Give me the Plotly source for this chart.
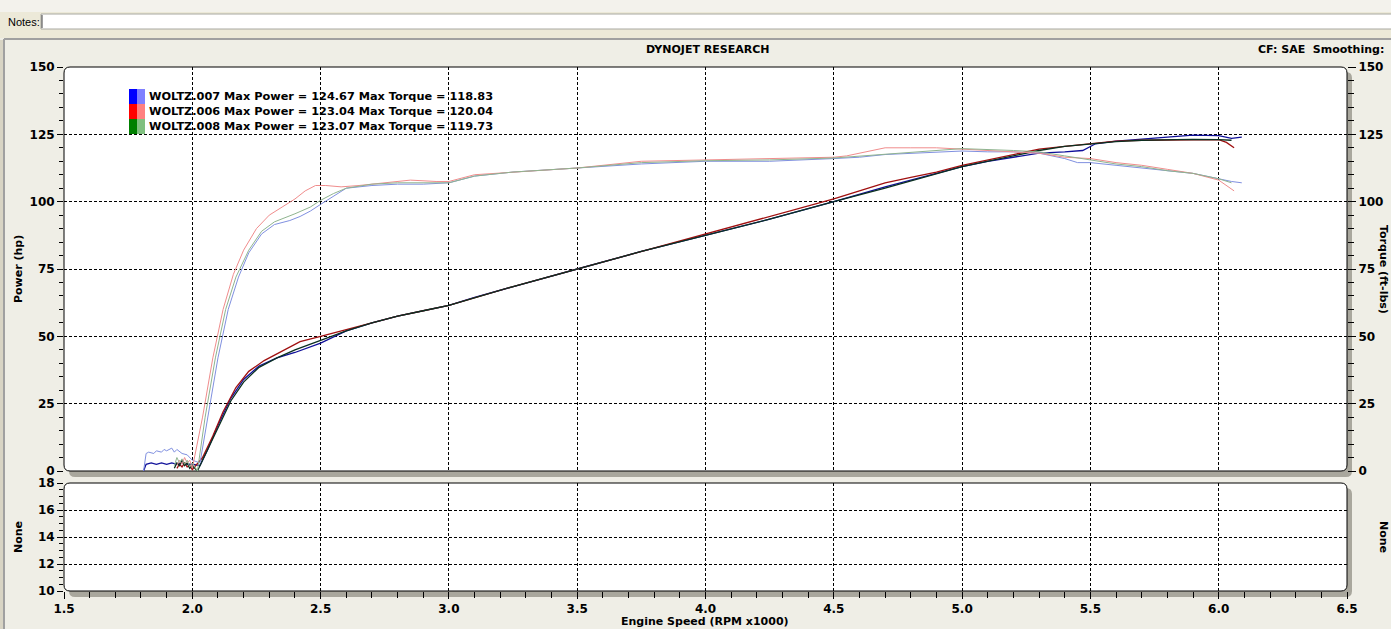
import plotly.graph_objects as go

W, H = 1391, 629

# ---------------- data ----------------
run_names = ["WOLTZ.007", "WOLTZ.006", "WOLTZ.008"]
max_power = [124.67, 123.04, 123.07]
max_torque = [118.83, 120.04, 119.73]
dark_colors = ["#10109a", "#a01010", "#0a3020"]
light_colors = ["#8090e0", "#f08c8c", "#8fb48f"]
swatch_dark = ["#0000ff", "#ff0000", "#008000"]
swatch_light = ["#8080ff", "#ff8080", "#80c080"]

# WOLTZ.007 (blue)
rpm_pw_007 = [1.81, 1.82, 1.84, 1.86, 1.88, 1.90, 1.92, 1.94, 1.96, 1.98, 2.00, 2.03, 2.06, 2.10, 2.15,
              2.20, 2.26, 2.33, 2.40, 2.50, 2.60, 2.70, 2.80, 2.90, 3.00, 3.10, 3.25, 3.50, 3.75,
              4.00, 4.25, 4.50, 4.70, 4.90, 5.00, 5.10, 5.20, 5.30, 5.40, 5.47, 5.52, 5.60, 5.70,
              5.80, 5.90, 6.00, 6.05, 6.09]
pw_007 = [0, 2.5, 3, 2.5, 3, 2.5, 3, 2.5, 3, 2.5, 2.5, 2, 8, 17, 27,
          34, 39, 42, 44, 47.5, 52, 55, 57.5, 59.5, 61.5, 64.5, 68.5, 75, 81.5,
          87.5, 93.5, 100, 105.5, 110.5, 113, 115, 116.5, 118, 118.5, 119, 121.5, 122.5, 123.2,
          124, 124.7, 124.5, 123.5, 124]
rpm_tq_007 = [1.81, 1.82, 1.83, 1.85, 1.86, 1.88, 1.89, 1.90, 1.92, 1.93, 1.94, 1.96, 1.98, 2.00, 2.03,
              2.06, 2.10, 2.14, 2.18, 2.22, 2.27, 2.32, 2.38, 2.42, 2.46, 2.50, 2.55, 2.60, 2.70,
              2.80, 2.90, 3.00, 3.10, 3.25, 3.50, 3.75, 4.00, 4.25, 4.50, 4.60, 4.70, 4.80, 4.90,
              5.00, 5.10, 5.20, 5.30, 5.40, 5.45, 5.50, 5.60, 5.70, 5.80, 5.90, 6.00, 6.05, 6.09]
tq_007 = [0, 6.5, 7, 6.5, 7.5, 7, 8, 7.5, 8.5, 7, 8, 6.5, 6, 4, 3,
          20, 42, 60, 72, 81, 88, 91.5, 93, 94.5, 96.5, 99, 102, 105, 106,
          106.5, 106.5, 107, 109.5, 111, 112.5, 114, 115, 115, 116, 116.5, 117.5, 118, 118.5,
          118.8, 118.5, 118.5, 118, 116, 114.5, 114.5, 113.5, 112.5, 111.5, 110.5, 108.5, 107.5, 107]

# WOLTZ.006 (red)
rpm_pw_006 = [1.94, 1.95, 1.96, 1.97, 1.98, 1.99, 2.00, 2.04, 2.08, 2.12, 2.17, 2.22, 2.28, 2.35, 2.42,
              2.50, 2.60, 2.70, 2.80, 2.90, 3.00, 3.25, 3.50, 3.75, 4.00, 4.25, 4.50, 4.60, 4.70,
              4.80, 4.90, 5.00, 5.10, 5.20, 5.30, 5.40, 5.50, 5.60, 5.70, 5.80, 5.90, 6.00, 6.03, 6.06]
pw_006 = [1, 2.5, 1.5, 3, 1.5, 2, 0.5, 5, 13, 22, 31, 37, 41, 44.5, 48,
          50, 52.5, 55, 57.5, 59.5, 61.5, 68.5, 75, 81.5, 88, 94.5, 101, 104, 107,
          109, 111, 113.5, 115.5, 117.5, 119.5, 120.5, 121.5, 122.5, 122.8, 122.9, 123, 123, 122, 120]
rpm_tq_006 = [1.94, 1.95, 1.96, 1.97, 1.98, 1.99, 2.00, 2.04, 2.08, 2.12, 2.16, 2.20, 2.25, 2.30, 2.35,
              2.40, 2.44, 2.48, 2.52, 2.58, 2.65, 2.75, 2.85, 2.95, 3.00, 3.10, 3.25, 3.50, 3.75,
              4.00, 4.25, 4.50, 4.55, 4.62, 4.70, 4.80, 4.90, 5.00, 5.20, 5.30, 5.40, 5.50, 5.60,
              5.70, 5.80, 5.90, 6.00, 6.03, 6.06]
tq_006 = [2, 4, 2.5, 5, 3, 4, 1, 20, 42, 60, 73, 82, 90, 95, 98,
          101, 104, 106, 106, 105.5, 106, 107, 108, 107.5, 107.5, 110, 111, 112.5, 115,
          115.5, 116, 116.5, 117, 118.5, 120, 120, 120, 119.5, 118.5, 118, 116.5, 116, 114.5,
          113.5, 112, 110.5, 108, 106, 104]

# WOLTZ.008 (green)
rpm_pw_008 = [1.93, 1.94, 1.95, 1.96, 1.97, 1.98, 1.99, 2.00, 2.02, 2.05, 2.10, 2.15, 2.20, 2.26, 2.33,
              2.40, 2.50, 2.60, 2.70, 2.80, 2.90, 3.00, 3.25, 3.50, 3.75, 4.00, 4.25, 4.50, 4.70,
              5.00, 5.20, 5.30, 5.40, 5.50, 5.60, 5.70, 5.80, 5.90, 6.00, 6.05]
pw_008 = [1, 3, 2, 4, 2, 3, 1, 2, 0, 6, 16, 26, 33, 38.5, 42,
          45, 48.5, 52, 55, 57.5, 59.5, 61.5, 68.5, 75, 81.5, 87.5, 93.5, 100, 105,
          113, 117, 119, 120.5, 121.5, 122.3, 122.8, 123, 123.1, 123, 122.8]
rpm_tq_008 = [1.93, 1.94, 1.95, 1.96, 1.97, 1.98, 1.99, 2.00, 2.02, 2.05, 2.09, 2.13, 2.17, 2.22, 2.27,
              2.32, 2.40, 2.46, 2.50, 2.55, 2.60, 2.70, 2.80, 3.00, 3.10, 3.25, 3.50, 3.75, 4.00,
              4.25, 4.50, 4.70, 4.90, 5.00, 5.20, 5.30, 5.40, 5.50, 5.60, 5.70, 5.80, 5.90, 6.00, 6.05]
tq_008 = [2, 5, 3, 4.5, 2.5, 4, 1.5, 3, 0, 20, 42, 60, 72, 82, 89,
          92.5, 95.5, 98, 100.5, 103, 105, 106.5, 107, 107, 109.5, 111, 112.5, 114.5, 115.2,
          115.5, 116.2, 117.5, 119, 119.7, 119, 118.5, 117, 115.5, 114, 113, 111.5, 110.5, 108.5, 107]

power_x = [rpm_pw_007, rpm_pw_006, rpm_pw_008]
power_y = [pw_007, pw_006, pw_008]
torque_x = [rpm_tq_007, rpm_tq_006, rpm_tq_008]
torque_y = [tq_007, tq_006, tq_008]

x_ticks = [1.5, 2.0, 2.5, 3.0, 3.5, 4.0, 4.5, 5.0, 5.5, 6.0, 6.5]
y_ticks = [0, 25, 50, 75, 100, 125, 150]
y3_ticks = [10, 12, 14, 16, 18]

# ---------------- helpers (pixel -> paper) ----------------
def PX(x):
    return x / W

def PY(y):
    return 1 - y / H

def rrect(x0, y0, x1, y1, r):
    return (
        f"M {PX(x0 + r)},{PY(y0)} L {PX(x1 - r)},{PY(y0)} Q {PX(x1)},{PY(y0)} {PX(x1)},{PY(y0 + r)} "
        f"L {PX(x1)},{PY(y1 - r)} Q {PX(x1)},{PY(y1)} {PX(x1 - r)},{PY(y1)} "
        f"L {PX(x0 + r)},{PY(y1)} Q {PX(x0)},{PY(y1)} {PX(x0)},{PY(y1 - r)} "
        f"L {PX(x0)},{PY(y0 + r)} Q {PX(x0)},{PY(y0)} {PX(x0 + r)},{PY(y0)} Z"
    )

L, R = 64, 1347
T1, B1 = 67, 471
T2, B2 = 483, 591

FONT = "DejaVu Sans"
fig = go.Figure()

for i in range(3):
    fig.add_trace(go.Scatter(x=torque_x[i], y=torque_y[i], mode="lines",
                             line=dict(color=light_colors[i], width=1),
                             xaxis="x", yaxis="y2", showlegend=False, hoverinfo="skip"))
for i in range(3):
    fig.add_trace(go.Scatter(x=power_x[i], y=power_y[i], mode="lines",
                             line=dict(color=dark_colors[i], width=1.3),
                             xaxis="x", yaxis="y", showlegend=False, hoverinfo="skip"))
fig.add_trace(go.Scatter(x=[None], y=[None], xaxis="x2", yaxis="y3", showlegend=False))

tickfont = dict(family=FONT, size=12, color="#000000", weight="bold")
grid = dict(showgrid=True, gridcolor="#000000", gridwidth=1, griddash="3px,2px")

fig.update_layout(
    template="none",
    width=W, height=H,
    margin=dict(l=0, r=0, t=0, b=0, pad=0, autoexpand=False),
    paper_bgcolor="#EFEEE6",
    plot_bgcolor="rgba(0,0,0,0)",
    showlegend=False,
    xaxis=dict(domain=[PX(L), PX(R)], anchor="y", range=[1.5, 6.5], tickvals=x_ticks, automargin=False,
               showticklabels=False, ticks="", zeroline=False, showline=False, **grid),
    xaxis2=dict(domain=[PX(L), PX(R)], anchor="y3", range=[1.5, 6.5], tickvals=x_ticks, automargin=False,
                ticktext=[f"{v:.1f}" for v in x_ticks], tickfont=tickfont,
                ticks="outside", ticklen=7, tickcolor="#000", tickwidth=1,
                minor=dict(dtick=0.1, ticks="outside", ticklen=6, tickcolor="#000", showgrid=False),
                zeroline=False, showline=False, matches="x", **grid),
    yaxis=dict(domain=[PY(B1), PY(T1)], anchor="x", range=[0, 150], tickvals=y_ticks, automargin=False,
               tickfont=tickfont, ticks="outside", ticklen=6, tickcolor="#000",
               minor=dict(dtick=5, ticks="outside", ticklen=4, tickcolor="#000", showgrid=False),
               zeroline=False, showline=False, **grid),
    yaxis2=dict(overlaying="y", side="right", anchor="x", range=[0, 150], tickvals=y_ticks, automargin=False,
                tickfont=tickfont, ticks="outside", ticklen=8, tickcolor="#000",
                minor=dict(dtick=5, ticks="outside", ticklen=6, tickcolor="#000", showgrid=False),
                showgrid=False, zeroline=False, showline=False),
    yaxis3=dict(domain=[PY(B2), PY(T2)], anchor="x2", range=[10, 18], tickvals=y3_ticks, automargin=False,
                tickfont=tickfont, ticks="outside", ticklen=6, tickcolor="#000",
                minor=dict(dtick=0.5, ticks="outside", ticklen=4, tickcolor="#000", showgrid=False),
                zeroline=False, showline=False, **grid),
)

shapes = []
# window chrome: top strip, notes bar, panel border
shapes.append(dict(type="rect", xref="paper", yref="paper", x0=0, x1=1, y0=PY(38), y1=1,
                   fillcolor="#ECE9D8", line=dict(width=0), layer="below"))
shapes.append(dict(type="rect", xref="paper", yref="paper", x0=0, x1=1, y0=PY(12), y1=1,
                   fillcolor="#F3F2EC", line=dict(width=0), layer="below"))
shapes.append(dict(type="rect", xref="paper", yref="paper", x0=PX(41), x1=1.01, y0=PY(29), y1=PY(14),
                   fillcolor="#FFFFFF", line=dict(color="#A8A8A0", width=1), layer="below"))
shapes.append(dict(type="line", xref="paper", yref="paper", x0=PX(42), x1=PX(42), y0=PY(28), y1=PY(15),
                   line=dict(color="#404040", width=1), layer="below"))
shapes.append(dict(type="line", xref="paper", yref="paper", x0=PX(4), x1=1, y0=PY(39), y1=PY(39),
                   line=dict(color="#A0A0A0", width=2), layer="below"))
shapes.append(dict(type="rect", xref="paper", yref="paper", x0=0, x1=PX(3), y0=0, y1=PY(40),
                   fillcolor="#D8D4C4", line=dict(width=0), layer="below"))
shapes.append(dict(type="line", xref="paper", yref="paper", x0=PX(4), x1=PX(4), y0=0, y1=PY(39),
                   line=dict(color="#A0A0A0", width=2), layer="below"))
# plot frames with shadow
for (t, b) in [(T1, B1), (T2, B2)]:
    shapes.append(dict(type="path", xref="paper", yref="paper", path=rrect(L + 5, t + 5, R + 5, b + 6, 6),
                       fillcolor="#A9A79D", line=dict(width=0), layer="below"))
    shapes.append(dict(type="path", xref="paper", yref="paper", path=rrect(L, t, R, b, 6),
                       fillcolor="#FFFFFF", line=dict(color="#000000", width=1), layer="below"))
# legend swatches
for i in range(3):
    y0 = 89 + 15 * i
    shapes.append(dict(type="rect", xref="paper", yref="paper", x0=PX(129), x1=PX(137), y0=PY(y0 + 15), y1=PY(y0),
                       fillcolor=swatch_dark[i], line=dict(width=0), layer="above"))
    shapes.append(dict(type="rect", xref="paper", yref="paper", x0=PX(137), x1=PX(145), y0=PY(y0 + 15), y1=PY(y0),
                       fillcolor=swatch_light[i], line=dict(width=0), layer="above"))
fig.update_layout(shapes=shapes)

ann = []
bold11 = dict(family=FONT, size=11, color="#000", weight="bold")
ann.append(dict(xref="paper", yref="paper", x=PX(6), y=PY(22), xanchor="left", yanchor="middle",
                text="Notes:", showarrow=False, font=dict(family="Liberation Sans", size=11, color="#000")))
ann.append(dict(xref="paper", yref="paper", x=PX(707), y=PY(50), xanchor="center", yanchor="middle",
                text="DYNOJET RESEARCH", showarrow=False, font=bold11))
ann.append(dict(xref="paper", yref="paper", x=PX(1256), y=PY(50), xanchor="left", yanchor="middle",
                text="CF: SAE  Smoothing:", showarrow=False, font=bold11))
for i in range(3):
    ann.append(dict(xref="paper", yref="paper", x=PX(147), y=PY(96.5 + 15 * i), xanchor="left", yanchor="middle",
                    text=f"{run_names[i]} Max Power = {max_power[i]:.2f} Max Torque = {max_torque[i]:.2f}",
                    showarrow=False, font=dict(family=FONT, size=11.3, color="#000", weight="bold")))
ann.append(dict(xref="paper", yref="paper", x=PX(18), y=PY(269), xanchor="center", yanchor="middle",
                text="Power (hp)", textangle=-90, showarrow=False, font=bold11))
ann.append(dict(xref="paper", yref="paper", x=PX(18), y=PY(537), xanchor="center", yanchor="middle",
                text="None", textangle=-90, showarrow=False, font=bold11))
ann.append(dict(xref="paper", yref="paper", x=PX(1384), y=PY(269), xanchor="center", yanchor="middle",
                text="Torque (ft-lbs)", textangle=90, showarrow=False, font=bold11))
ann.append(dict(xref="paper", yref="paper", x=PX(1384), y=PY(537), xanchor="center", yanchor="middle",
                text="None", textangle=90, showarrow=False, font=bold11))
ann.append(dict(xref="paper", yref="paper", x=PX(705), y=PY(621), xanchor="center", yanchor="middle",
                text="Engine Speed (RPM x1000)", showarrow=False, font=bold11))
fig.update_layout(annotations=ann)

fig.write_html("out.html", config={"displayModeBar": False},
               post_script="document.documentElement.style.margin='0';document.body.style.margin='0';"
                           "document.body.style.overflow='hidden';")
